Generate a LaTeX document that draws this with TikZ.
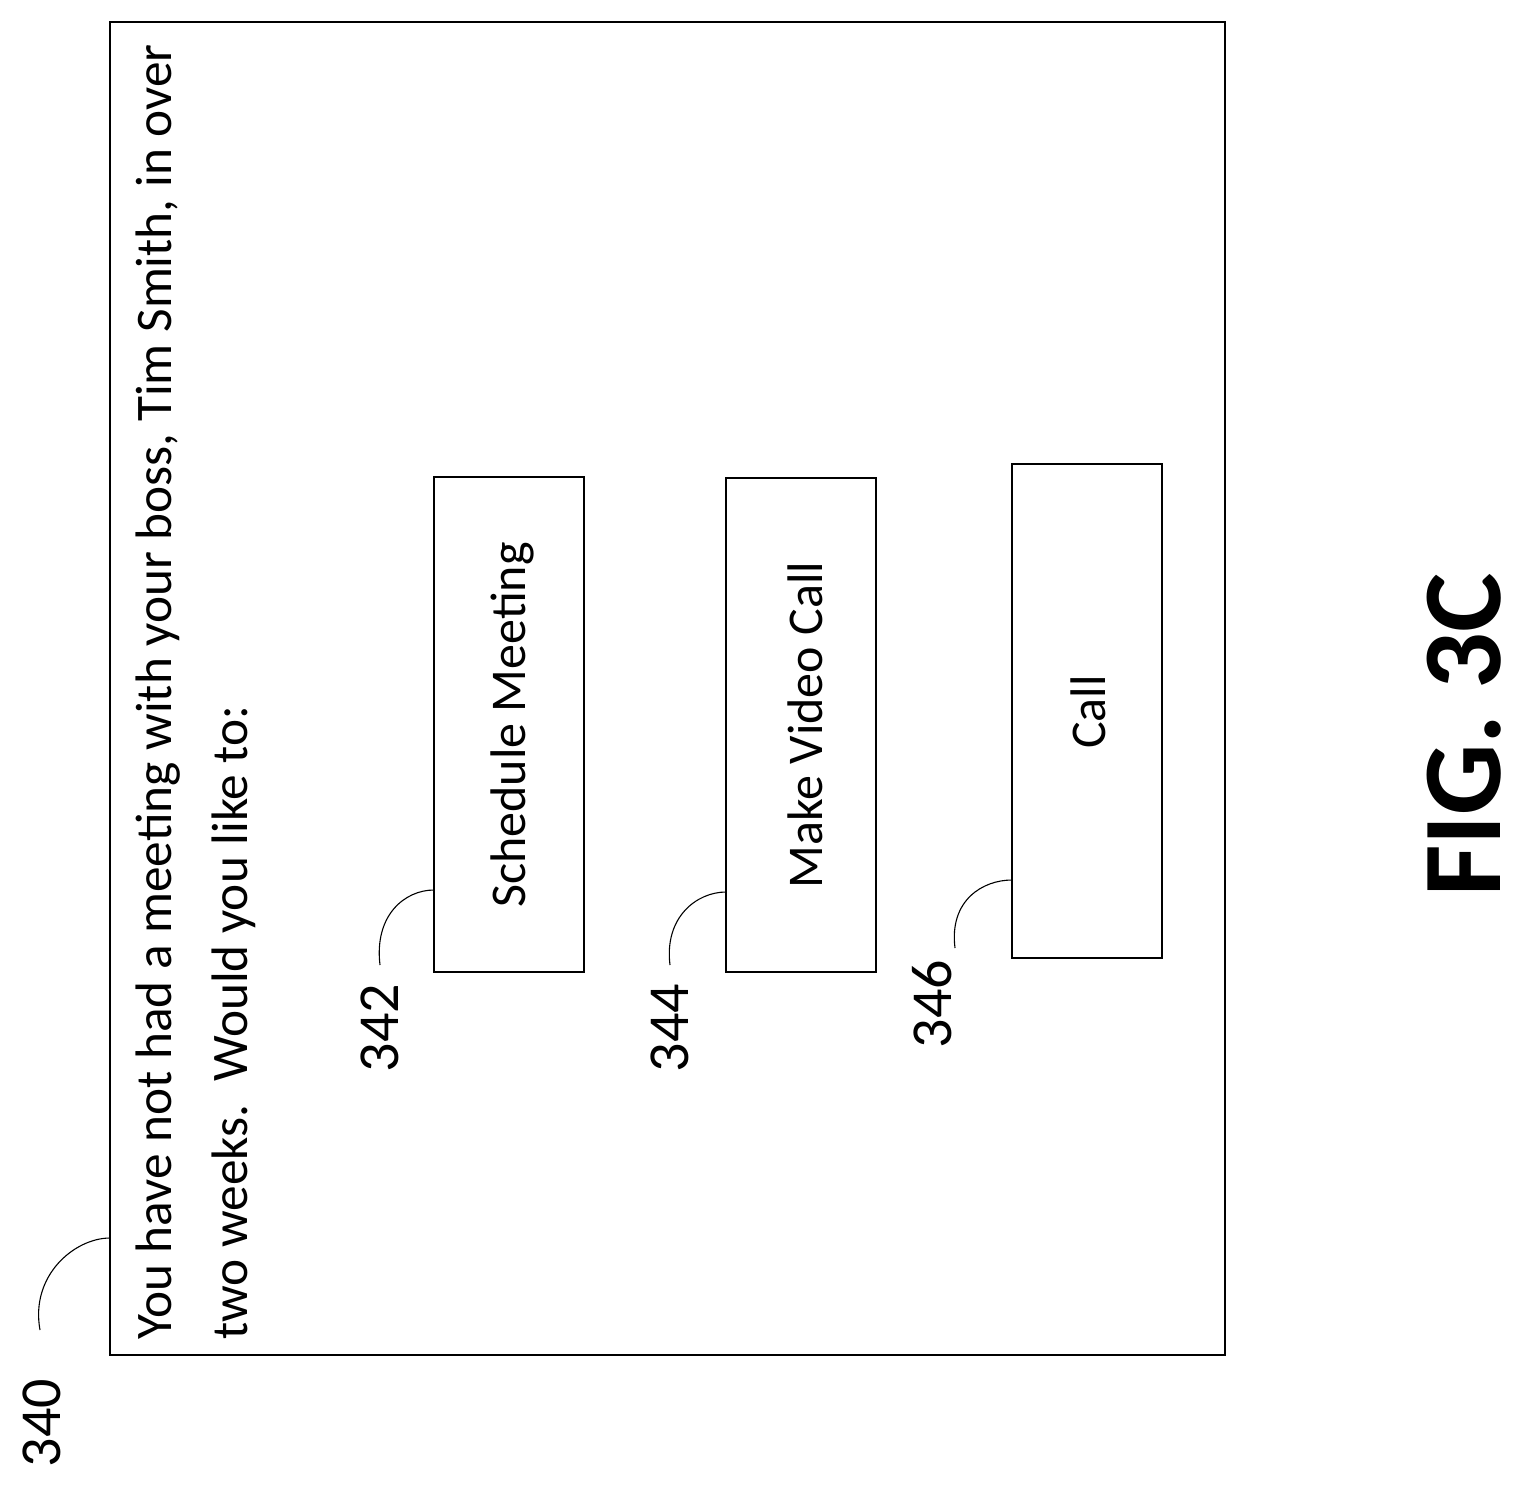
\documentclass[tikz,border=0pt]{standalone}
\usepackage{fontspec}
\setmainfont{Carlito}
\begin{document}
\begin{tikzpicture}[x=1pt,y=-1pt,
  box/.style={draw,line width=1.3pt},
  txt/.style={rotate=90,font=\fontsize{50}{60}\selectfont,inner sep=0pt},
  lbl/.style={rotate=90,font=\fontsize{58}{66}\selectfont,inner sep=0pt},
  lead/.style={line width=1.1pt}]
\useasboundingbox (0,0) rectangle (1527,1489);
\draw[box] (110,22) rectangle (1225,1355);
\node[txt,font=\fontsize{51.3}{60}\selectfont,anchor=base west] (l1) at (171,1340) {You have not had a meeting with your boss, Tim Smith, in over};
\node[txt,font=\fontsize{51.3}{60}\selectfont,anchor=base west] (l2) at (247,1340) {two weeks.\ \ Would you like to:};
\draw[box] (434,477) rectangle (584,972);
\draw[box] (726,478) rectangle (876,972);
\draw[box] (1012,464) rectangle (1162,958);
\node[txt] (b1) at (512,725) {Schedule Meeting};
\node[txt] (b2) at (805,725) {Make Video Call};
\node[txt] (b3) at (1088,712) {Call};
\node[lbl] (n342) at (380,1028) {342};
\node[lbl] (n344) at (670,1028) {344};
\node[lbl] (n346) at (932,1004) {346};
\node[lbl] (n340) at (42,1423) {340};
\node[rotate=90,font=\fontsize{112}{124}\selectfont\bfseries,inner sep=0pt] (fig) at (1464,735) {FIG. 3C};
\coordinate (a1) at (380,965); \coordinate (a2) at (434,890);
\coordinate (c1) at (670,965); \coordinate (c2) at (726,892);
\coordinate (d1) at (955,948); \coordinate (d2) at (1012,880);
\coordinate (e1) at (40,1330); \coordinate (e2) at (110,1238);
\draw[lead] (a1) .. controls (374,915) and (405,890) .. (a2);
\draw[lead] (c1) .. controls (664,917) and (697,892) .. (c2);
\draw[lead] (d1) .. controls (949,900) and (983,880) .. (d2);
\draw[lead] (e1) .. controls (30,1275) and (75,1238) .. (e2);
\end{tikzpicture}
\end{document}
